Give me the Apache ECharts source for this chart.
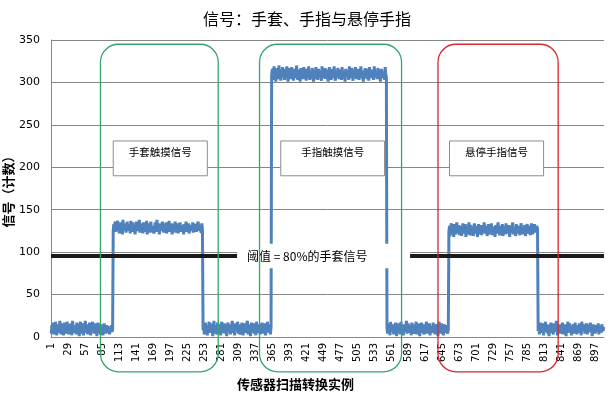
<!DOCTYPE html>
<html><head><meta charset="utf-8">
<script src="https://cdn.jsdelivr.net/npm/echarts@6/dist/echarts.min.js"></script>
<style>html,body{margin:0;padding:0;background:#fff}#c{width:614px;height:393px}</style>
</head><body><div id="c"></div>
<script>
// ---- data ----
const noise1 = [4,14,9,17,3,12,6,18,10,2,15,8,13,5,19,11,3,16,7,14,
2,10,17,6,12,4,18,9,15,3,11,7,16,13,2,19,8,12,5,14,
10,3,17,6,15,9,1,13,18,7,11,4,16,2,12,8,19,5,14,10,
3,15,7,17,11,2,13,9,18,6,12,4,16,8,14,1,10,17,5,13,
9,3,15,7,12,2,11,16,6,10,4,14,8,13,5,11,3,12,7,14,
6,9];
const glove = [126,133,128,136,124,131,129,137,125,134,122,130,135,127,132,121,138,126,131,128,
134,123,129,136,125,133,127,131,122,137,128,124,135,130,126,132,121,129,136,127,
133,125,130,138,123,128,134,126,131,122,135,129,124,132,127,137,121,130,126,134,
128,123,136,125,131,129,133,122,127,135,130,124,138,126,129,132,121,134,127,131,
125,136,128,123,133,130,126,135,122,129,132,127,137,124,131,126,134,121,128,133,
125,130,136,123,129,127,134,122,131,126,135,128,124,132,127,130,121,133,126,129,
136,124,131,127,134,122,128,132,125,130,126,135,123,129,131,127,133,124,130,128,
136,125,132,127,129,123,134,126];
const noise2 = [8,15,3,12,17,6,10,2,14,9,18,5,13,7,16,11,1,12,19,4,
14,8,10,3,17,12,6,15,9,2,13,18,5,11,7,16,4,14,10,1,
12,17,6,9,15,3,13,8,19,11,5,16,2,14,7,12,10,18,4,15,
9,3,13,6,17,11,2,14,8,16,5,12,10,19,3,15,7,13,1,11,
17,6,14,9,4,16,12,2,18,8,13,5,15,10,3,12,7,17,11,4,
14,9,16,2,13,6,18,8,11,5,15,3,12];
const finger = [308,316,303,312,319,305,310,301,317,309,314,304,320,307,311,302,315,309,318,306,
312,303,316,310,305,319,308,301,313,317,306,311,304,318,309,314,302,316,307,312,
305,320,310,303,315,308,311,301,317,306,313,309,304,318,312,307,316,302,310,314,
306,319,308,303,313,311,305,317,309,301,315,310,304,318,307,312,303,316,311,306,
314,308,302,319,310,305,313,309,317,304,311,307,315,301,312,318,306,310,303,316,
309,313,305,319,308,302,314,311,306,317,310,304,312,307,315,303,318,309,305,313,
311,301,316,308,306,314,310,303,319,307,312,305,317,309,302,315,311,306,318,308,
304,313,310,316,303,312,307,319,305,311,309,301,314,308,317,306,313,304,310,316,
302,318,309,312,305,315,307,311,303,319,308,314,306,310,304,317,312,307,315,301,
309,316,305,313,308,311,303,318,310,306];
const noise3 = [11,4,16,8,13,2,18,6,12,9,15,3,14,7,17,10,1,13,5,16,
9,12,3,18,7,14,11,2,15,6,13,8,19,4,10,16,5,12,9,14,
2,17,7,11,13,4,15,8,18,3,12,6,16,10,1,14,9,17,5,11,
13,3,15,7,12,18,4,10,14,6,16,2,13,9,11,5,17,8,12,3,
15,10,6,14,1,12,18,7,13,4,16,9,11,2,15,8,14,5,10,12,
4,9];
const hover = [124,131,119,128,134,122,127,130,118,133,125,121,129,135,123,126,132,120,128,124,
131,119,127,134,122,129,125,133,118,126,130,121,128,135,124,120,132,127,123,130,
119,126,134,122,128,125,131,118,129,133,121,127,124,132,120,126,130,123,135,128,
122,125,131,119,127,133,124,129,121,126,134,120,128,123,130,125,118,132,127,122,
129,135,124,126,120,131,128,123,133,119,127,125,130,121,134,126,122,129,124,132,
118,128,131,123,126,135,121,127,130,124,119,133,128,122,126,131,125,120,129,134,
123,127,121,130,125,132,119,128,126,133,122,129,124,131,120,127,134,125,121,130,
126,133,123,128,124,131,127];
const noise4 = [7,14,3,11,17,5,12,9,16,2,13,8,18,6,10,15,4,12,1,14,
9,17,5,11,13,3,16,8,12,6,19,10,2,14,7,15,11,4,13,9,
17,3,12,6,15,8,1,14,10,18,5,11,16,7,13,2,12,9,15,4,
10,17,6,13,3,14,8,11,16,5,12,2,18,9,13,7,15,4,11,10,
16,3,14,6,12,8,17,5,13,1,11,15,7,10,4,14,9,12,6,16,
3,13,8,11,5,15,10,7,12];
const threshold = 96;
const titleText = '信号：手套、手指与悬停手指';
const yName = '信号（计数）';
const xName = '传感器扫描转换实例';
const thresholdLabel = '阈值 = 80%的手套信号';
const regionLabels = ['手套触摸信号', '手指触摸信号', '悬停手指信号'];
// annotation ranges (category numbers / values)
const regionCats = [[82, 276], [344, 578], [638, 836]];
const labelCats = [[103, 258], [379, 550], [657, 812]];

const signal = [].concat(noise1, glove, noise2, finger, noise3, hover, noise4);
const categories = signal.map((_, i) => String(i + 1));

const CJK = "'Noto Sans CJK SC', sans-serif";
const LAT = "'DejaVu Sans', sans-serif";

const chart = echarts.init(document.getElementById('c'), null, {renderer: 'canvas'});
chart.setOption({
  animation: false,
  backgroundColor: '#fff',
  title: [
    {text: titleText, left: 'center', top: 6, textStyle: {fontSize: 16, fontWeight: 'normal', color: '#000', fontFamily: CJK}},
    {text: xName, left: 232, top: 373, textStyle: {fontSize: 13, fontWeight: 'bold', color: '#000', fontFamily: CJK}}
  ],
  grid: {left: 51, right: 10, top: 40, bottom: 56, containLabel: false, outerBoundsMode: 'none'},
  xAxis: {
    type: 'category', data: categories, boundaryGap: true,
    axisLine: {lineStyle: {color: '#868686', width: 1}},
    axisTick: {show: false},
    axisLabel: {interval: 27, rotate: 90, fontSize: 10, color: '#000', fontFamily: LAT, margin: 6}
  },
  yAxis: {
    type: 'value', min: 0, max: 350, interval: 50,
    axisLine: {show: true, lineStyle: {color: '#868686'}},
    axisTick: {show: false},
    splitLine: {lineStyle: {color: '#868686', width: 1}},
    axisLabel: {fontSize: 11, color: '#000', fontFamily: LAT, margin: 11},
    name: yName, nameLocation: 'middle', nameRotate: 90, nameGap: 36, nameMoveOverlap: false,
    nameTextStyle: {fontWeight: 'bold', fontSize: 13, color: '#000', fontFamily: CJK}
  },
  series: [
    {type: 'line', data: signal, symbol: 'none', z: 3,
     lineStyle: {color: '#4F81BD', width: 3}},
    {type: 'line', data: [], z: 4, silent: true,
     markLine: {symbol: 'none', silent: true, label: {show: false},
       lineStyle: {color: '#1a1a1a', width: 4, type: 'solid'},
       data: [{yAxis: threshold}]}}
  ]
});

// annotations positioned through the axes
const N = signal.length;
const xa = chart.convertToPixel({xAxisIndex: 0}, 0);
const xb = chart.convertToPixel({xAxisIndex: 0}, N - 1);
const px = c => xa + (c - 1) * (xb - xa) / (N - 1);
const py = v => chart.convertToPixel({yAxisIndex: 0}, v);

const g = [];
// threshold label box
{
  const x0 = px(307), x1 = px(592), y0 = py(110), y1 = py(81);
  g.push({type: 'rect', z: 100, shape: {x: x0, y: y0, width: x1 - x0, height: y1 - y0},
    style: {fill: '#fff', stroke: null}});
  g.push({type: 'text', z: 101, x: x0 + 10, y: py(threshold) + 1,
    style: {text: thresholdLabel, fontSize: 12, fill: '#000', fontFamily: CJK, verticalAlign: 'middle', align: 'left'}});
}
labelCats.forEach((r, i) => {
  const x0 = px(r[0]), x1 = px(r[1]), y0 = py(231), y1 = py(190);
  g.push({type: 'rect', z: 100, shape: {x: x0, y: y0, width: x1 - x0, height: y1 - y0},
    style: {fill: '#fff', stroke: '#8c8c8c', lineWidth: 1}});
  g.push({type: 'text', z: 101, x: (x0 + x1) / 2, y: y0 + 11,
    style: {text: regionLabels[i], fontSize: 10.5, fill: '#000', fontFamily: CJK, align: 'center', verticalAlign: 'middle'}});
});
const regionColors = ['#35A66A', '#35A66A', '#D7262E'];
regionCats.forEach((r, i) => {
  const x0 = px(r[0]), x1 = px(r[1]), y0 = py(345), y1 = py(-41);
  g.push({type: 'rect', z: 110, shape: {x: x0, y: y0, width: x1 - x0, height: y1 - y0, r: 18},
    style: {fill: null, stroke: regionColors[i], lineWidth: 1.3}});
});
chart.setOption({graphic: g});
</script></body></html>
